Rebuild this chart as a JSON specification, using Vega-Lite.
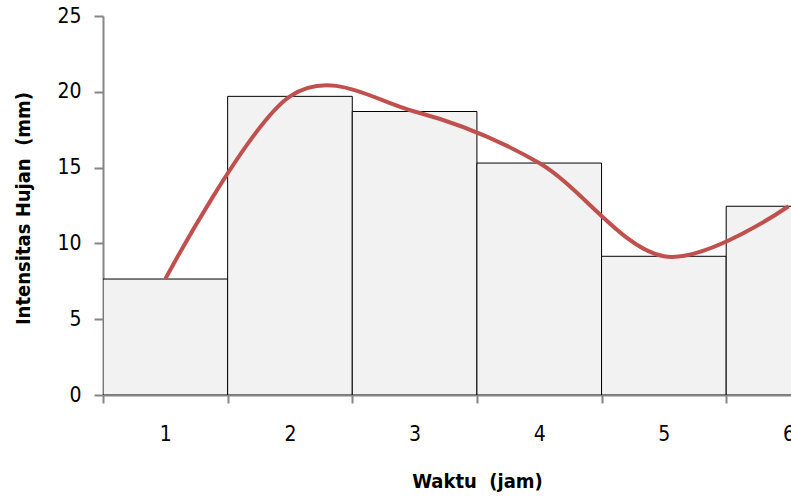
{
  "$schema": "https://vega.github.io/schema/vega-lite/v6.json",
  "width": 688,
  "height": 379,
  "autosize": {"type": "none"},
  "padding": {"left": 103, "top": 16, "right": 0, "bottom": 105},
  "background": "white",
  "config": {
    "view": {"stroke": null},
    "font": "DejaVu Sans Condensed",
    "axis": {
      "labelFont": "DejaVu Sans Condensed",
      "labelFontSize": 21,
      "labelColor": "#000000",
      "titleFont": "DejaVu Sans Condensed",
      "titleFontSize": 20,
      "titleFontWeight": "bold",
      "titleColor": "#000000",
      "domainColor": "#868686",
      "domainWidth": 2,
      "tickColor": "#868686",
      "tickWidth": 2,
      "tickSize": 8,
      "grid": false
    }
  },
  "data": {
    "values": [
      {"jam": 1, "start": 0.5, "end": 1.5, "intensitas": 7.65},
      {"jam": 2, "start": 1.5, "end": 2.5, "intensitas": 19.7},
      {"jam": 3, "start": 2.5, "end": 3.5, "intensitas": 18.7},
      {"jam": 4, "start": 3.5, "end": 4.5, "intensitas": 15.3},
      {"jam": 5, "start": 4.5, "end": 5.5, "intensitas": 9.15},
      {"jam": 6, "start": 5.5, "end": 6.5, "intensitas": 12.45}
    ]
  },
  "layer": [
    {
      "mark": {"type": "rect", "fill": "#f2f2f2", "stroke": "#000000", "strokeWidth": 1, "clip": true},
      "encoding": {
        "x": {
          "field": "start",
          "type": "quantitative",
          "scale": {"domain": [0.5, 6.02], "nice": false, "zero": false},
          "axis": {
            "title": "Waktu\u00a0 (jam)",
            "values": [1, 2, 3, 4, 5, 6],
            "format": "d",
            "tickOffset": -62.3,
            "labelOffset": 62.3,
            "labelFlush": false,
            "labelPadding": 20,
            "titleX": 374,
            "titleY": 76,
            "titleAlign": "center",
            "titleBaseline": "top"
          }
        },
        "x2": {"field": "end"},
        "y": {
          "field": "intensitas",
          "type": "quantitative",
          "scale": {"domain": [0, 25], "nice": false},
          "axis": {
            "title": "Intensitas Hujan\u00a0 (mm)",
            "values": [0, 5, 10, 15, 20, 25],
            "format": "d",
            "tickSize": 9,
            "labelPadding": 13,
            "titleX": -80,
            "titleY": 192,
            "titleAlign": "center",
            "titleBaseline": "middle",
            "titleAngle": -90
          }
        },
        "y2": {"datum": 0}
      }
    },
    {
      "mark": {"type": "line", "color": "#c0504d", "strokeWidth": 4, "interpolate": "cardinal", "clip": true},
      "encoding": {
        "x": {"field": "jam", "type": "quantitative"},
        "y": {"field": "intensitas", "type": "quantitative"}
      }
    }
  ]
}
